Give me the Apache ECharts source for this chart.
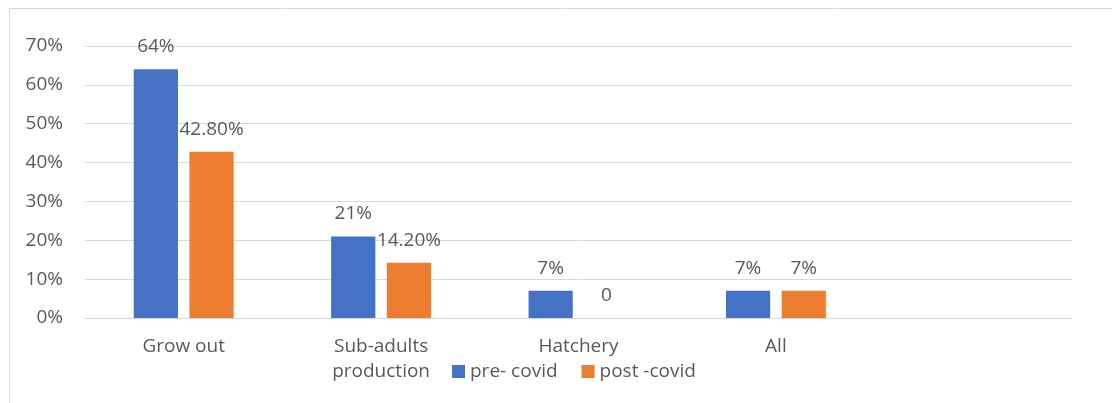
<!DOCTYPE html>
<html>
<head>
<meta charset="utf-8">
<script src="https://cdn.jsdelivr.net/npm/echarts@6/dist/echarts.min.js"></script>
<style>
html,body{margin:0;padding:0;background:#fff;}
#c{width:1112px;height:403px;}
</style>
</head>
<body>
<div id="c"></div>
<script>
var categories = ['Grow out', 'Sub-adults\nproduction', 'Hatchery', 'All', ''];
var preCovid = [0.64, 0.21, 0.07, 0.07, null];
var postCovid = [0.428, 0.142, 0, 0.07, null];
var preLabels = ['64%', '21%', '7%', '7%', ''];
var postLabels = ['42.80%', '14.20%', '0', '7%', ''];
var yTicks = [0, 0.1, 0.2, 0.3, 0.4, 0.5, 0.6, 0.7];

var FONT = '"Open Sans", "Noto Sans", sans-serif';
var TXT = '#595959';

var chart = echarts.init(document.getElementById('c'), null, {renderer: 'canvas'});
chart.setOption({
  animation: false,
  backgroundColor: '#fff',
  textStyle: {fontFamily: FONT},
  grid: {left: 85, right: 40, top: 46, bottom: 85, containLabel: false},
  graphic: [
    {type: 'line', shape: {x1: 9, y1: 8.5, x2: 1112, y2: 8.5}, style: {stroke: '#D9D9D9', lineWidth: 1}},
    {type: 'line', shape: {x1: 9.5, y1: 8, x2: 9.5, y2: 403}, style: {stroke: '#D9D9D9', lineWidth: 1}}
  ],
  legend: {
    left: 447,
    top: 354,
    icon: 'rect',
    itemWidth: 13,
    itemHeight: 13,
    itemGap: 24,
    textStyle: {fontFamily: FONT, fontSize: 19, color: TXT, lineHeight: 25, padding: [0, 0, 0, 0]},
    data: ['pre- covid', 'post -covid']
  },
  xAxis: {
    type: 'category',
    data: categories,
    axisLine: {show: true, lineStyle: {color: '#D9D9D9', width: 1}},
    axisTick: {show: false},
    axisLabel: {fontFamily: FONT, fontSize: 19, color: TXT, lineHeight: 25, margin: 16, interval: 0}
  },
  yAxis: {
    type: 'value',
    min: 0,
    max: 0.7,
    interval: 0.1,
    axisLine: {show: false},
    axisTick: {show: false},
    splitLine: {lineStyle: {color: '#D9D9D9', width: 1}},
    axisLabel: {
      fontFamily: FONT, fontSize: 19, color: TXT, margin: 22,
      formatter: function (v) {
        for (var i = 0; i < yTicks.length; i++) {
          if (Math.abs(yTicks[i] - v) < 1e-9) return Math.round(yTicks[i] * 100) + '%';
        }
        return '';
      }
    }
  },
  series: [
    {
      name: 'pre- covid',
      type: 'bar',
      data: preCovid,
      barWidth: '22.4%',
      barGap: '26%',
      itemStyle: {color: '#4472C4'},
      label: {
        show: true, position: 'top', distance: 10,
        fontFamily: FONT, fontSize: 19, color: TXT, lineHeight: 25,
        formatter: function (p) { return preLabels[p.dataIndex]; }
      }
    },
    {
      name: 'post -covid',
      type: 'bar',
      data: postCovid,
      barWidth: '22.4%',
      barGap: '26%',
      itemStyle: {color: '#ED7D31'},
      label: {
        show: true, position: 'top', distance: 10,
        fontFamily: FONT, fontSize: 19, color: TXT, lineHeight: 25,
        formatter: function (p) { return postLabels[p.dataIndex]; }
      }
    }
  ]
});
</script>
</body>
</html>
